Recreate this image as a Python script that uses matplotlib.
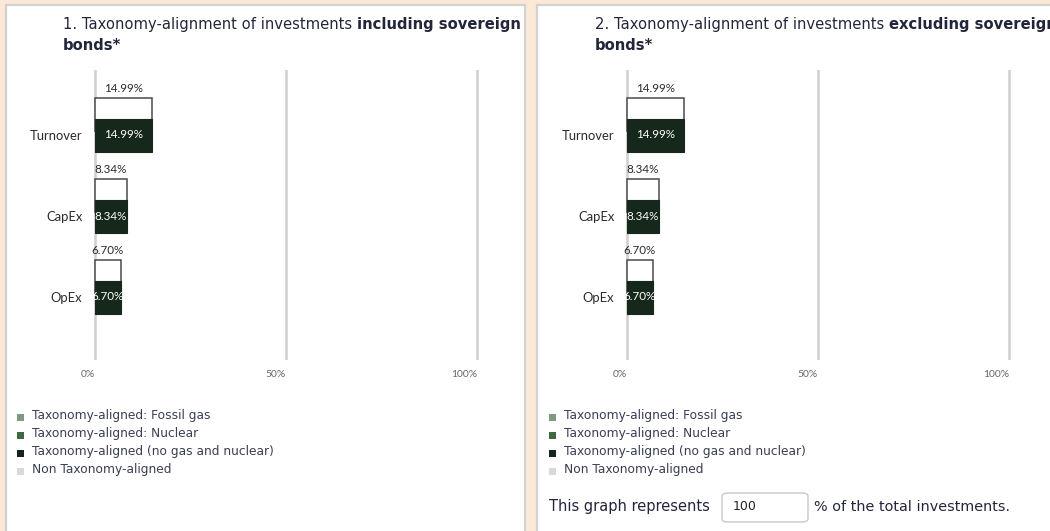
import matplotlib
matplotlib.use("Agg")
import matplotlib.pyplot as plt
from matplotlib.patches import Rectangle, FancyBboxPatch

# ---- data ----
categories = ["Turnover", "CapEx", "OpEx"]
total_aligned = [14.99, 8.34, 6.70]          # outlined bar (upper)
aligned_no_gas_nuclear = [14.99, 8.34, 6.70]  # dark bar (lower)
x_ticks = [0, 50, 100]
x_tick_labels = ["0%", "50%", "100%"]
legend_labels = [
    "Taxonomy-aligned: Fossil gas",
    "Taxonomy-aligned: Nuclear",
    "Taxonomy-aligned (no gas and nuclear)",
    "Non Taxonomy-aligned",
]
legend_colors = ["#7f9a7f", "#3f6a40", "#14251a", "#d9d9d9"]
titles = [
    ("1. Taxonomy-alignment of investments ", "including sovereign", "bonds*"),
    ("2. Taxonomy-alignment of investments ", "excluding sovereign", "bonds*"),
]
share_of_investments = "100"

W, H = 1050, 531
BG = "#fbe8d6"
DARK = "#16271b"
TXT = "#23263a"
LEG_TXT = "#3a3e52"

fig = plt.figure(figsize=(W / 100, H / 100), dpi=100, facecolor=BG)
renderer = fig.canvas.get_renderer()


def fx(x):
    return x / W


def fy(y):
    return 1 - y / H


def rect_px(x0, y0, x1, y1):
    return [x0 / W, 1 - y1 / H, (x1 - x0) / W, (y1 - y0) / H]


# white panels
for px0, px1 in [(6, 525), (537, 1060)]:
    fig.patches.append(Rectangle((fx(px0), fy(545)), (px1 - px0) / W, (545 - 5) / H,
                                 transform=fig.transFigure, facecolor="white",
                                 edgecolor="#d2d2d2", linewidth=1.6, zorder=-5))

off = 532  # horizontal offset of the second panel
px_per_pct = 3.82
x_lo = -2.0  # a little room left of 0% so the first grid line is not clipped

for i, (t_norm, t_bold, t_line2) in enumerate(titles):
    dx = i * off
    # title
    t1 = fig.text(fx(63 + dx), fy(25), t_norm, fontsize=10.62, color=TXT,
                  va="center", ha="left", family="DejaVu Sans")
    bb = t1.get_window_extent(renderer)
    fig.text(bb.x1 / W, fy(25), t_bold, fontsize=10.62, color=TXT, weight="bold",
             va="center", ha="left", family="DejaVu Sans")
    fig.text(fx(63 + dx), fy(46), t_line2, fontsize=10.62, color=TXT, weight="bold",
             va="center", ha="left", family="DejaVu Sans")

    # chart axes: 0% at x=95, 81px per category, first centre at y=135
    x0 = 95 + dx
    ax = fig.add_axes(rect_px(x0 + x_lo * px_per_pct, 70, x0 + 110 * px_per_pct, 360),
                      zorder=2)
    ax.set_facecolor("none")
    ax.set_xlim(x_lo, 110)
    ax.set_ylim(2 + 63 / 81, -65 / 81)
    for s in ax.spines.values():
        s.set_visible(False)
    ypos = list(range(len(categories)))
    bh = 33 / 81
    up = 21 / 81
    ax.barh([y - up for y in ypos], total_aligned, height=bh, color="white",
            edgecolor="#4a4a4a", linewidth=1.1, zorder=2)
    ax.barh(ypos, aligned_no_gas_nuclear, height=bh, color=DARK,
            edgecolor=DARK, linewidth=0.8, zorder=3)
    for y, v_top, v_in in zip(ypos, total_aligned, aligned_no_gas_nuclear):
        ax.text(v_top / 2, y - up - bh / 2 - 9 / 81, f"{v_top:.2f}%", ha="center",
                va="center", fontsize=8.4, color="#2b2b2b", family="Lato", zorder=4)
        ax.text(v_in / 2, y, f"{v_in:.2f}%", ha="center", va="center",
                fontsize=8.4, color="white", family="Lato", zorder=4)
    ax.set_yticks(ypos)
    ax.set_yticklabels(categories, fontsize=9.4, color="#2b2b2b", family="Lato")
    ax.tick_params(axis="y", length=0, pad=3.6)
    ax.set_xticks(x_ticks)
    ax.set_xticklabels(x_tick_labels, fontsize=7.4, color="#666666", family="Lato",
                       ha="right")
    ax.tick_params(axis="x", length=0, pad=7)
    ax.grid(axis="x", color="#cfcfcf", linewidth=1.8, zorder=0)
    ax.set_axisbelow(True)

    # legend
    for k, (lab, col) in enumerate(zip(legend_labels, legend_colors)):
        yc = 416 + k * 18
        fig.patches.append(Rectangle((fx(17 + dx), fy(yc + 5)), 7 / W, 7 / H,
                                     transform=fig.transFigure, facecolor=col,
                                     edgecolor="none", zorder=2))
        fig.text(fx(32 + dx), fy(yc), lab, fontsize=8.8, color=LEG_TXT,
                 va="center", ha="left", family="DejaVu Sans")

# share of investments line (second panel)
fig.text(fx(549), fy(507), "This graph represents", fontsize=10.5, color=TXT,
         va="center", ha="left", family="DejaVu Sans")
fig.patches.append(FancyBboxPatch((fx(722), fy(522)), 86 / W, 29 / H,
                                  boxstyle="round,pad=0,rounding_size=0.006",
                                  transform=fig.transFigure, facecolor="white",
                                  edgecolor="#c8c8c8", linewidth=1.0, zorder=2))
fig.text(fx(733), fy(507), share_of_investments, fontsize=9, color="#222222",
         va="center", ha="left", family="DejaVu Sans", zorder=3)
fig.text(fx(814), fy(507), "% of the total investments.", fontsize=10.4, color=TXT,
         va="center", ha="left", family="DejaVu Sans")

fig.savefig("out.png", dpi=100, facecolor=BG)
